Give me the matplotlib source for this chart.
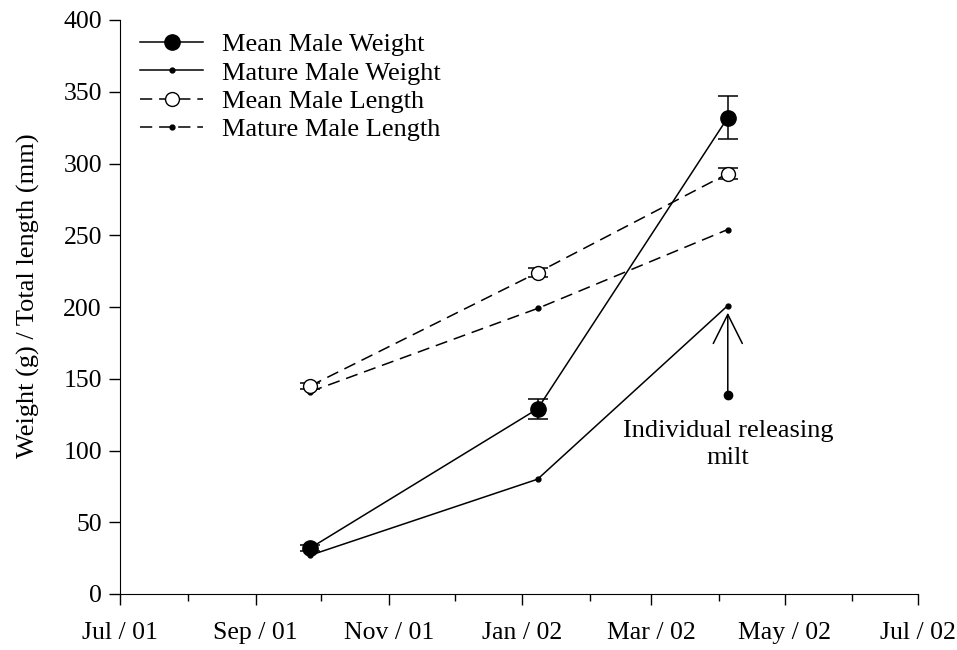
import datetime as dt
import matplotlib
matplotlib.use('Agg')
import matplotlib.pyplot as plt
import matplotlib.dates as mdates
from matplotlib.lines import Line2D

# sampling dates
dates = [dt.date(2001, 9, 26), dt.date(2002, 1, 8), dt.date(2002, 4, 5)]

mean_weight = [32, 129, 332]
mean_weight_err = [2, 7, 15]
mature_weight = [27, 80, 201]
mean_length = [145, 224, 293]
mean_length_err = [2, 3, 4]
mature_length = [141, 199, 254]

milt_date = dt.date(2002, 4, 5)
milt_weight = 139

plt.rcParams['font.family'] = ['Liberation Serif', 'DejaVu Serif']
plt.rcParams['font.size'] = 19

fig = plt.figure(figsize=(9.57, 6.5), dpi=100)
ax = fig.add_axes([120 / 957, 56 / 650, 798 / 957, 574 / 650])

dash = (8, 4.5)
lw = 1.1
ax.errorbar(dates, mean_weight, yerr=mean_weight_err, fmt='-o', color='black',
            lw=lw, markersize=11, capsize=7, elinewidth=lw, capthick=lw, zorder=3)
ax.plot(dates, mature_weight, '-o', color='black', lw=lw, markersize=3.5)
ax.errorbar(dates, mean_length, yerr=mean_length_err, fmt='o', ls='--', dashes=dash,
            color='black', mfc='white', lw=lw, markersize=10, capsize=7,
            elinewidth=lw, capthick=lw, zorder=3)
ax.plot(dates, mature_length, 'o', ls='--', dashes=dash, color='black', lw=lw,
        markersize=3.5)

# individual releasing milt
ax.plot([milt_date], [milt_weight], 'o', color='black', markersize=6)
ax.annotate('', xy=(milt_date, 196), xytext=(milt_date, milt_weight),
            arrowprops=dict(arrowstyle='->,head_length=1.1,head_width=0.55',
                            lw=lw, color='black', shrinkA=0, shrinkB=0))
ax.text(milt_date, 104, 'Individual releasing\nmilt', ha='center', va='center',
        fontsize=19, linespacing=1.3)

ax.set_xlim(dt.date(2001, 7, 1), dt.date(2002, 7, 1))
ax.set_ylim(0, 400)
ax.set_yticks(range(0, 401, 50))
ax.xaxis.set_major_locator(mdates.MonthLocator(bymonth=[1, 3, 5, 7, 9, 11]))
ax.xaxis.set_minor_locator(mdates.MonthLocator())
ax.xaxis.set_major_formatter(mdates.DateFormatter('%b / %y'))

ax.spines['top'].set_visible(False)
ax.spines['right'].set_visible(False)
ax.tick_params(axis='both', which='major', length=8, width=1, direction='out', labelsize=18.5)
ax.tick_params(axis='x', which='minor', length=5, width=1, direction='out')
ax.tick_params(axis='x', pad=12)
ax.tick_params(axis='y', pad=5)
ax.set_ylabel('Weight (g) / Total length (mm)', fontsize=19)
ax.yaxis.set_label_coords(-0.1, 0.519)

handles = [
    Line2D([], [], color='black', lw=lw, marker='o', markersize=11),
    Line2D([], [], color='black', lw=lw, marker='o', markersize=3.5),
    Line2D([], [], color='black', lw=lw, ls='--', dashes=dash, marker='o',
           markersize=10, mfc='white'),
    Line2D([], [], color='black', lw=lw, ls='--', dashes=dash, marker='o', markersize=3.5),
]
labels = ['Mean Male Weight', 'Mature Male Weight', 'Mean Male Length', 'Mature Male Length']
ax.legend(handles, labels, loc='upper left', bbox_to_anchor=(20 / 798, 1 - 13 / 574),
          frameon=False, borderaxespad=0, borderpad=0, handlelength=2.4,
          handletextpad=0.7, labelspacing=0.18, fontsize=19)

plt.savefig('out.png', dpi=100)
plt.close()
